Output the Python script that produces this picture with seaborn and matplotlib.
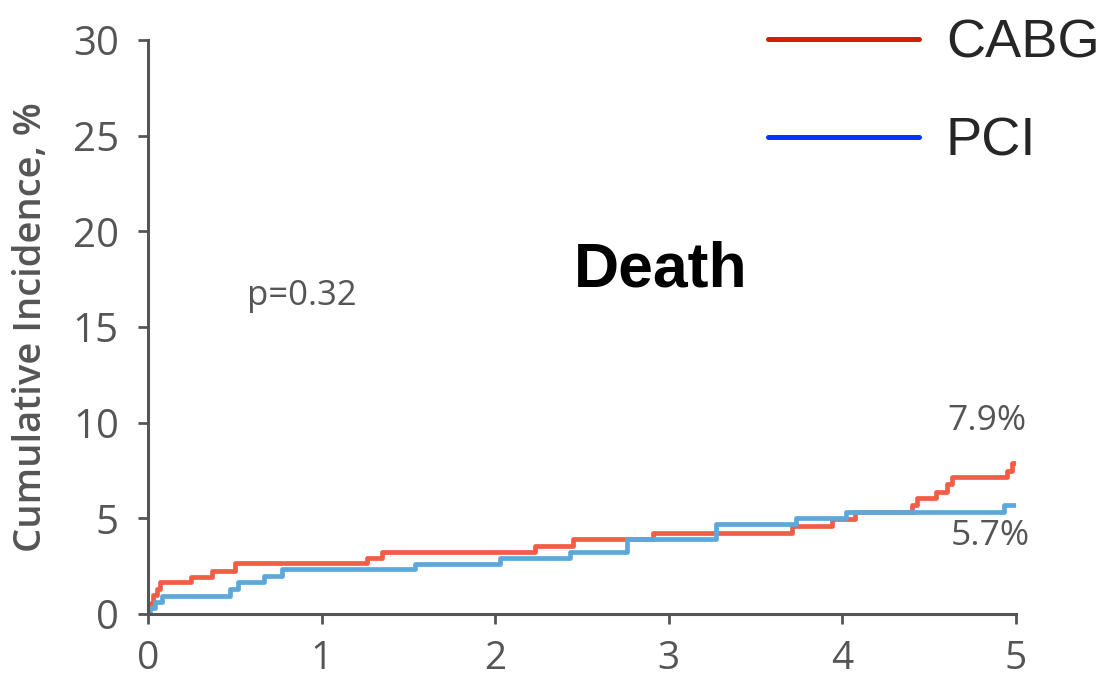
import numpy as np
import pandas as pd
import matplotlib
matplotlib.use("Agg")
import matplotlib.pyplot as plt
from matplotlib.lines import Line2D
import seaborn as sns

# Kaplan-Meier style step data (years, cumulative incidence %)
cabg_time = [0.0, 0.005, 0.015, 0.03, 0.05, 0.07, 0.25, 0.37, 0.50, 1.26, 1.35,
             2.23, 2.45, 2.91, 3.71, 3.94, 4.07, 4.40, 4.43, 4.54, 4.60, 4.63,
             4.95, 4.98, 5.01]
cabg_inc = [0.0, 0.3, 0.6, 1.0, 1.3, 1.65, 1.95, 2.25, 2.65, 2.95, 3.25,
            3.55, 3.9, 4.25, 4.6, 4.95, 5.35, 5.7, 6.05, 6.4, 6.8, 7.15,
            7.5, 7.9, 7.9]

pci_time = [0.0, 0.01, 0.04, 0.08, 0.47, 0.52, 0.67, 0.77, 1.54, 2.03, 2.43,
            2.76, 3.27, 3.73, 4.02, 4.93, 5.0]
pci_inc = [0.0, 0.3, 0.65, 0.95, 1.3, 1.65, 2.0, 2.35, 2.6, 2.95, 3.25,
           3.9, 4.7, 5.0, 5.35, 5.7, 5.7]

groups = ["CABG", "PCI"]
line_colors = {"CABG": "#F25D46", "PCI": "#5CA8DB"}
legend_colors = {"CABG": "#CC2200", "PCI": "#0033FF"}
final_labels = ["7.9%", "5.7%"]
p_label = "p=0.32"
panel_title = "Death"
x_ticks = [0, 1, 2, 3, 4, 5]
y_ticks = [0, 5, 10, 15, 20, 25, 30]

df = pd.concat([
    pd.DataFrame({"t": cabg_time, "inc": cabg_inc, "group": "CABG"}),
    pd.DataFrame({"t": pci_time, "inc": pci_inc, "group": "PCI"}),
], ignore_index=True)

sns.set_theme(style="white")
plt.rcParams["font.family"] = ["Open Sans", "DejaVu Sans"]

fig = plt.figure(figsize=(11.06, 6.76), dpi=100)
ax = fig.add_axes([0.1338, 0.0917, 0.7848, 0.8491])

sns.lineplot(data=df, x="t", y="inc", hue="group", hue_order=groups,
             palette=line_colors, drawstyle="steps-post", estimator=None,
             linewidth=3.4, legend=False, ax=ax)

ax.set_xlim(0, 5)
ax.set_ylim(0, 30)
ax.set_xticks(x_ticks)
ax.set_yticks(y_ticks)
ax.set_xlabel("")
gray = "#555555"
ax.set_ylabel("Cumulative Incidence, %", fontsize=27.5, fontweight="semibold",
              color=gray)
ax.yaxis.set_label_coords(-0.113, 0.5)

for side in ["top", "right"]:
    ax.spines[side].set_visible(False)
for side in ["left", "bottom"]:
    ax.spines[side].set_color(gray)
    ax.spines[side].set_linewidth(2.2)
ax.tick_params(axis="both", which="major", direction="out", length=7,
               width=2.0, color=gray, labelcolor=gray)
ax.tick_params(axis="x", pad=12, labelsize=28)
ax.tick_params(axis="y", pad=14, labelsize=29)
ax.tick_params(left=True, bottom=True)

# annotations
ax.text(0.887, 16.6, p_label, fontsize=25, color=gray, ha="center", va="center")
ax.text(2.955, 18.0, panel_title, fontsize=45, fontweight="bold", color="black",
        ha="center", va="center", family=["Liberation Sans", "DejaVu Sans"])
ax.text(4.833, 10.1, final_labels[0], fontsize=25.5, color=gray, ha="center", va="center")
ax.text(4.85, 4.1, final_labels[1], fontsize=25.5, color=gray, ha="center", va="center")

handles = [Line2D([0], [0], color=legend_colors[g], lw=3.6) for g in groups]
fig.legend(handles, groups, loc="upper left", bbox_to_anchor=(0.67, 1.012),
           frameon=False, borderpad=0, handlelength=2.78, handletextpad=0.5,
           labelspacing=0.88,
           prop={"family": ["Liberation Sans", "DejaVu Sans"], "size": 39})

fig.savefig("out.png", dpi=100)
